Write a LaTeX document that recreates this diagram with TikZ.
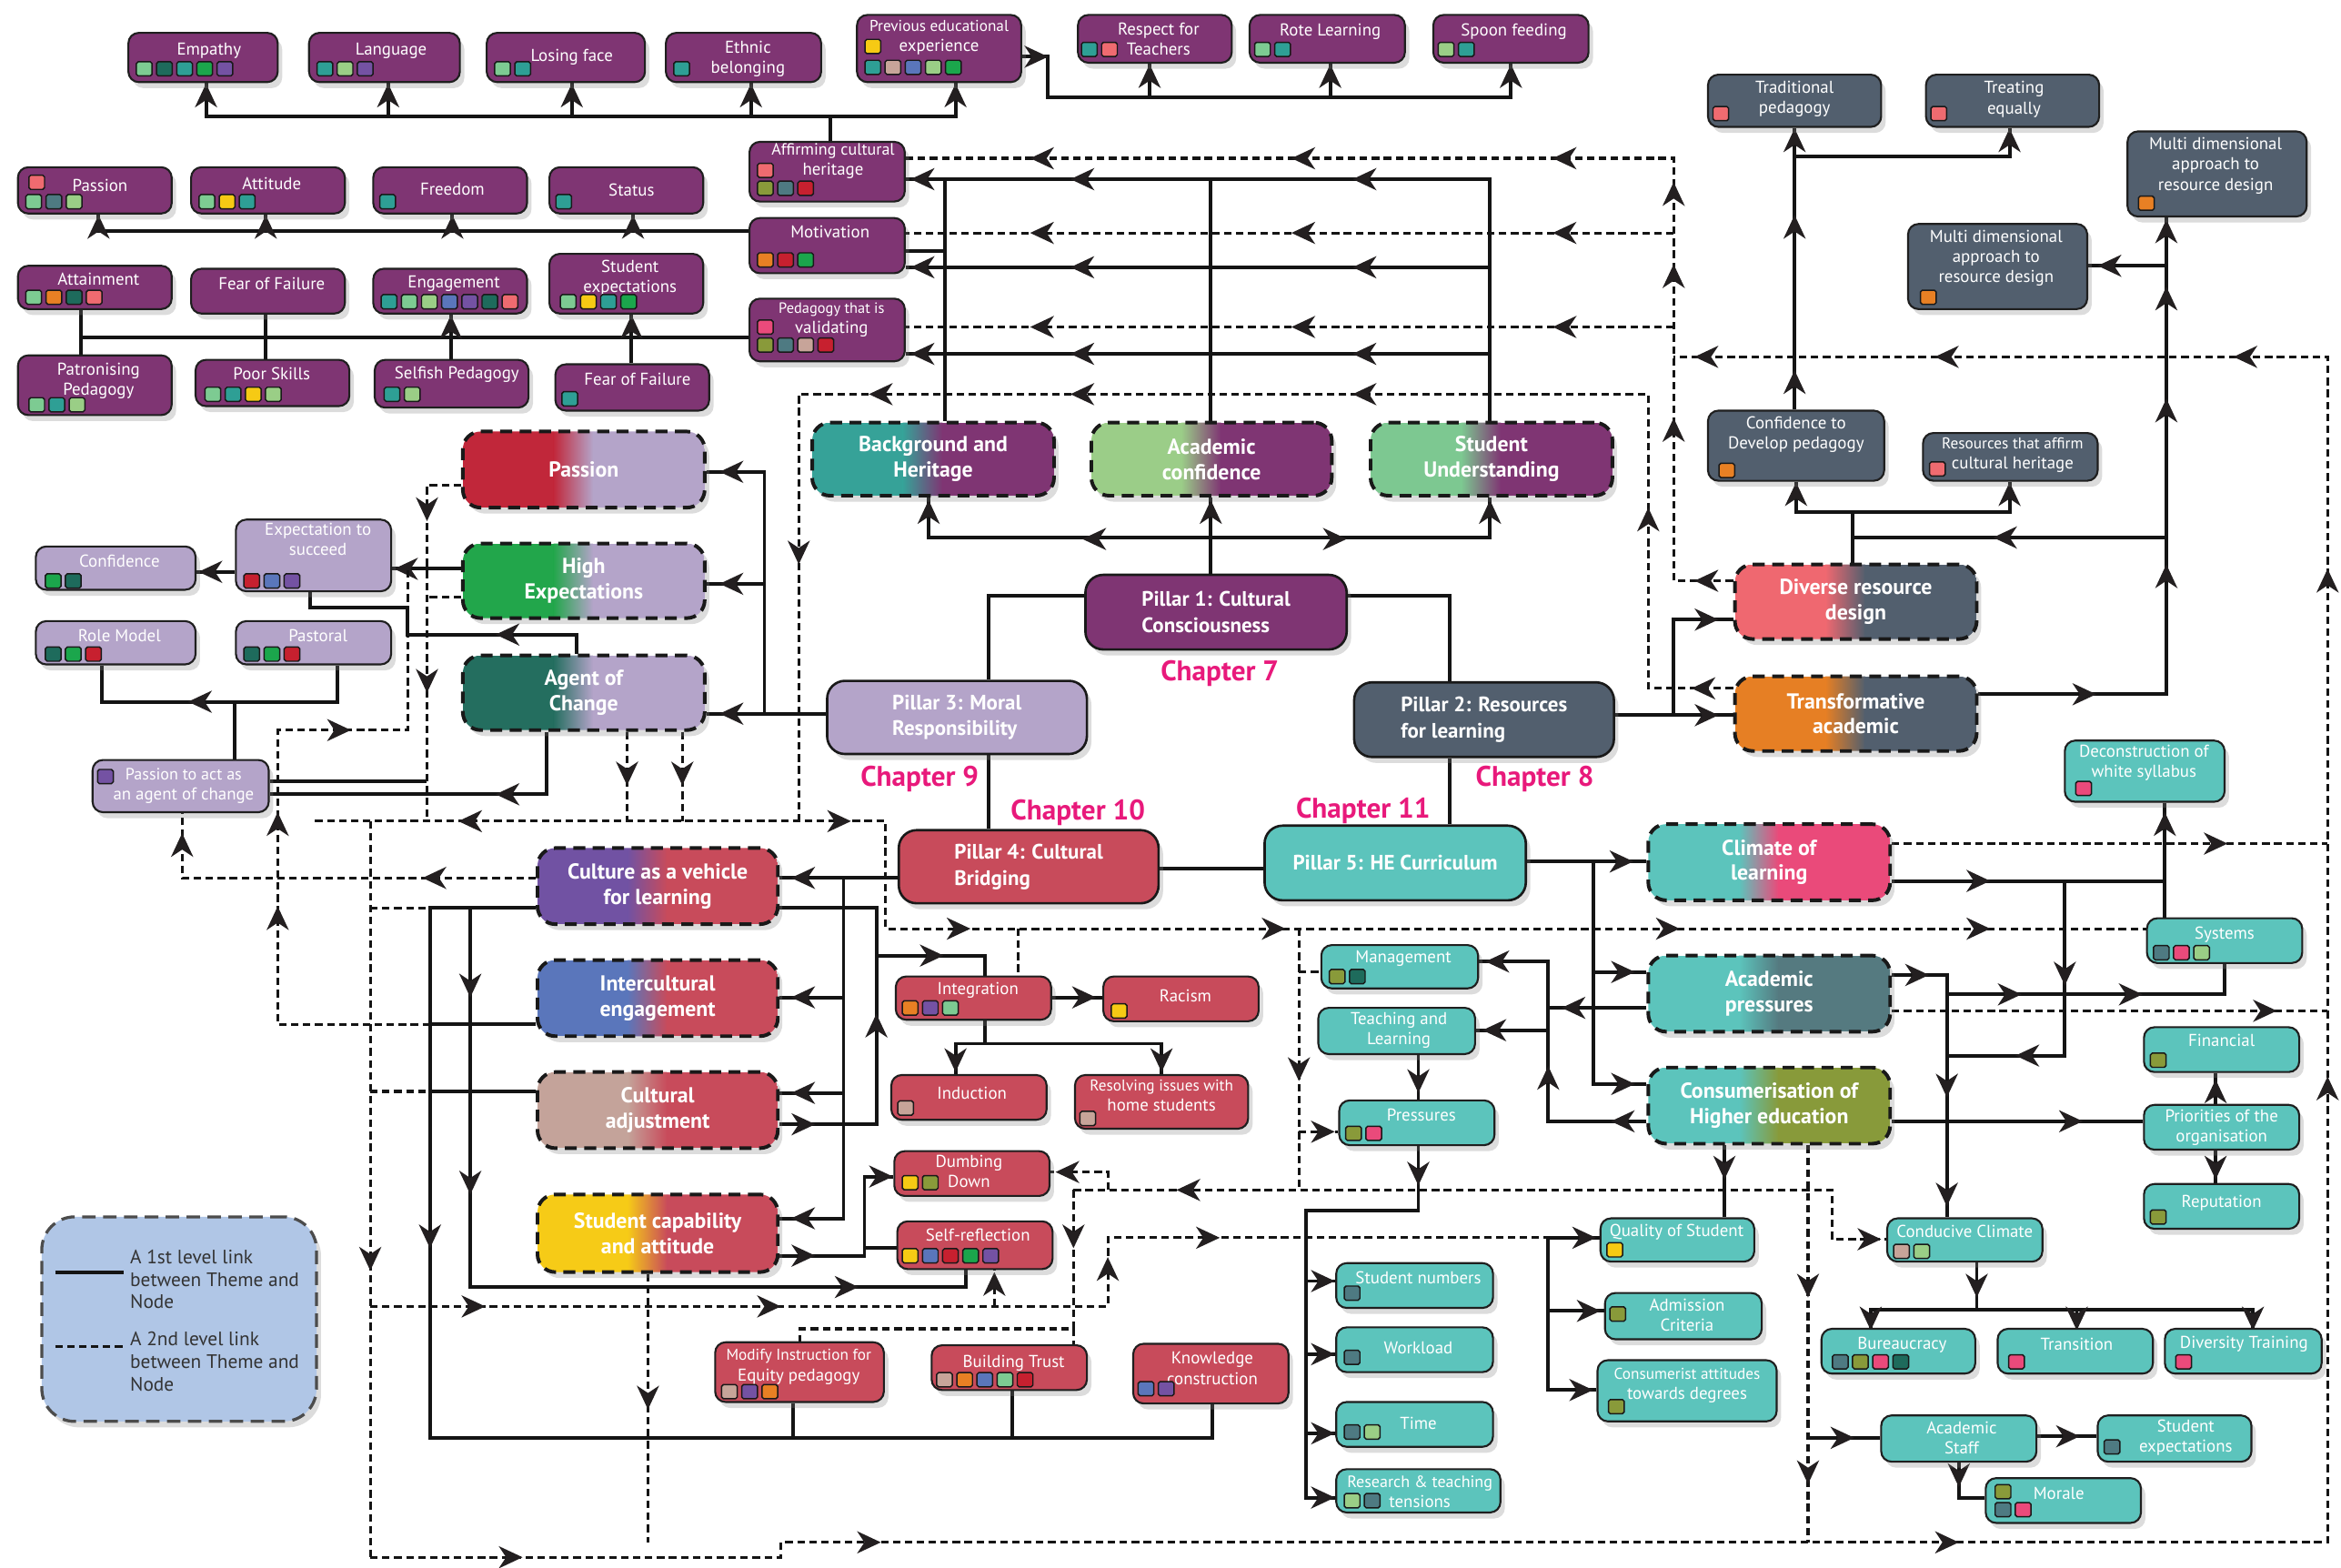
\documentclass[tikz,border=0pt]{standalone}
\usepackage{fontspec}
\setmainfont{PT Sans}
\usetikzlibrary{fit,shadows}
\pgfdeclarelayer{bg}
\pgfsetlayers{bg,main}
\definecolor{cPur}{HTML}{7F3573}
\definecolor{cSla}{HTML}{525F6E}
\definecolor{cLav}{HTML}{B4A4C9}
\definecolor{cRed}{HTML}{C84B5B}
\definecolor{cTea}{HTML}{5CC4BC}
\definecolor{cLeg}{HTML}{B0C6E6}
\definecolor{cChap}{HTML}{E8197B}
\definecolor{ahc}{HTML}{231F20}
\definecolor{sMint}{HTML}{7DCB92}
\definecolor{sDk}{HTML}{1E6B5C}
\definecolor{sTeal}{HTML}{2E9F95}
\definecolor{sGrn}{HTML}{1BA64C}
\definecolor{sPur}{HTML}{7452A3}
\definecolor{sPale}{HTML}{9ACE86}
\definecolor{sYel}{HTML}{F6CA14}
\definecolor{sTan}{HTML}{C7A499}
\definecolor{sBlu}{HTML}{5A76BB}
\definecolor{sSal}{HTML}{EF6B70}
\definecolor{sOrg}{HTML}{E88024}
\definecolor{sCrim}{HTML}{C7202F}
\definecolor{sPnk}{HTML}{EA4A7B}
\definecolor{sOli}{HTML}{899A3A}
\definecolor{sSlt}{HTML}{4E7A82}
\definecolor{gPass}{HTML}{C1273A}
\definecolor{gHE}{HTML}{22A64B}
\definecolor{gAoC}{HTML}{246E5F}
\definecolor{gBH}{HTML}{36A298}
\definecolor{gAC}{HTML}{9BCD88}
\definecolor{gSU}{HTML}{7DC891}
\definecolor{gDRD}{HTML}{EF6870}
\definecolor{gTA}{HTML}{E67F24}
\definecolor{gCVL}{HTML}{7152A3}
\definecolor{gIE}{HTML}{5A76BB}
\definecolor{gCA}{HTML}{C4A39A}
\definecolor{gSCA}{HTML}{F6CB17}
\definecolor{gPnk}{HTML}{EA4A7A}
\definecolor{gSltT}{HTML}{557A80}
\definecolor{gOli}{HTML}{889A3A}

\tikzset{
  shd/.style={drop shadow={opacity=0.28,shadow xshift=3pt,shadow yshift=-4pt}},
  base/.style={rectangle, rounded corners=7pt, draw=black!88, line width=1.3pt, inner sep=0pt, shd},
  pur/.style={base, fill=cPur},
  lav/.style={base, fill=cLav},
  red/.style={base, fill=cRed},
  sla/.style={base, fill=cSla},
  tea/.style={base, fill=cTea},
  txt/.style={text=white, font=\fontsize{11.5}{13.5}\selectfont, align=center, inner sep=0pt},
  sqs/.style={draw=black!90, line width=0.9pt, rounded corners=1.2pt},
  theme/.style 2 args={rectangle, rounded corners=12pt, draw=black!90, line width=2.4pt,
    dash pattern=on 8pt off 5pt, inner sep=0pt, shd,
    path picture={
      \fill[#1, sharp corners] (path picture bounding box.south west) rectangle ([xshift=-20pt]path picture bounding box.north);
      \shade[sharp corners, left color=#1, right color=#2] ([xshift=-20.3pt]path picture bounding box.south) rectangle ([xshift=6.3pt]path picture bounding box.north);
      \fill[#2, sharp corners] ([xshift=6pt]path picture bounding box.south) rectangle (path picture bounding box.north east);
    }},
  ttxt/.style={text=white, font=\bfseries\fontsize{14.5}{17}\selectfont, align=center, inner sep=0pt},
  pillar/.style={rectangle, rounded corners=12pt, draw=black!90, line width=1.6pt, inner sep=0pt, shd},
  ptxt/.style={text=white, font=\bfseries\fontsize{14}{17.5}\selectfont, align=left, inner sep=0pt},
  chap/.style={text=cChap, font=\bfseries\fontsize{19}{21}\selectfont, inner sep=0pt},
  legbox/.style={rectangle, rounded corners=22pt, fill=cLeg, draw=black!70, line width=2pt,
    dash pattern=on 9pt off 5pt, inner sep=0pt, shd},
  legtxt/.style={text=black!80, font=\fontsize{13}{15}\selectfont, align=left, inner sep=0pt},
  l1/.style={line width=2.4pt, draw=black!92},
  l2/.style={line width=1.9pt, draw=black!92, dash pattern=on 5pt off 3pt},
  pics/ah/.style={code={\fill[ahc] (8pt,0pt) -- (-8pt,7.5pt) -- (-3pt,0pt) -- (-8pt,-7.5pt) -- cycle;}}
}
\newcommand\nd[9]{\node[#1, fit={(#3,#4) (#5,#6)}] (#2) {}; \node[txt] (#2-tx) at (#7,#8) {#9};}
\newcommand\sq[4]{\foreach \sqc [count=\sqi from 0] in {#4} {\draw[sqs, fill=\sqc] ([xshift=#2pt+\sqi*13.5pt, yshift=-#3pt]#1.north west) rectangle ++(10.5,9.5);}}
\newcommand\tnode[8]{\node[theme={#6}{#7}, fit={(#2,#3) (#4,#5)}] (#1) {}; \node[ttxt] (#1-tx) at (#1.center) {#8};}
\newcommand\pil[7]{\node[pillar, fill=#6, fit={(#2,#3) (#4,#5)}] (#1) {}; \node[ptxt] (#1-tx) at (#1.center) {#7};}
\newcommand\ahd[3]{\pic[rotate=#3] at (#1,#2) {ah};}

\begin{document}
\begin{tikzpicture}[x=1pt,y=-1pt]
\useasboundingbox (0,0) rectangle (1568,1050);

% ---------- purple small nodes
\nd{pur}{emp}{86}{22}{186}{55}{140}{34}{Empathy}
\sq{emp}{6}{20}{sMint,sDk,sTeal,sGrn,sPur}
\nd{pur}{lang}{207}{22}{308}{55}{262}{34}{Language}
\sq{lang}{6}{20}{sTeal,sPale,sPur}
\nd{pur}{lose}{326}{22}{432}{55}{383}{38}{Losing face}
\sq{lose}{6}{20}{sMint,sTeal}
\nd{pur}{eth}{446}{22}{550}{55}{501}{39.5}{Ethnic\\belonging}
\sq{eth}{6}{20}{sTeal}
\nd{pur}{prev}{574}{10}{684}{55}{629}{25}{\fontsize{10.5}{13.5}\selectfont Previous educational\\experience}
\sq{prev}{6}{17}{sYel}
\sq{prev}{6}{31}{sTeal,sTan,sBlu,sPale,sGrn}
\nd{pur}{resp}{722}{10}{825}{42}{776}{26}{Respect for\\Teachers}
\sq{resp}{3}{19}{sTeal,sSal}
\nd{pur}{rote}{837}{10}{941}{42}{891}{21}{Rote Learning}
\sq{rote}{4}{19}{sMint,sTeal}
\nd{pur}{spoon}{960}{10}{1064}{42}{1014}{21}{Spoon feeding}
\sq{spoon}{4}{19}{sPale,sTeal}

\nd{pur}{pas2}{12}{112}{115}{143}{67}{124}{Passion}
\sq{pas2}{8}{6}{sSal}
\sq{pas2}{6}{19}{sMint,sSlt,sPale}
\nd{pur}{att}{128}{112}{231}{143}{182}{123}{Attitude}
\sq{att}{6}{19}{sMint,sYel,sTeal}
\nd{pur}{free}{250}{112}{353}{143}{303}{127}{Freedom}
\sq{free}{5}{19}{sTeal}
\nd{pur}{stat}{368}{112}{471}{143}{423}{127}{Status}
\sq{stat}{5}{19}{sTeal}
\nd{pur}{aff}{502}{95}{606}{135}{558}{108}{\fontsize{11}{13}\selectfont Affirming cultural\\heritage}
\sq{aff}{6}{15}{sSal}
\sq{aff}{6}{27}{sOli,sSlt,sCrim}
\nd{pur}{mot}{502}{146}{606}{183}{556}{155}{Motivation}
\sq{mot}{6}{24}{sOrg,sCrim,sGrn}

\nd{pur}{attn}{12}{178}{115}{207}{66}{187}{Attainment}
\sq{attn}{6}{17}{sMint,sOrg,sDk,sSal}
\nd{pur}{fof1}{128}{180}{231}{210}{182}{190}{Fear of Failure}
\nd{pur}{eng}{250}{180}{353}{210}{304}{190}{Engagement}
\sq{eng}{6}{18}{sTeal,sMint,sPale,sBlu,sPur,sDk,sSal}
\nd{pur}{sexp}{368}{170}{471}{210}{422}{186}{Student\\expectations}
\sq{sexp}{8}{28}{sMint,sYel,sTeal,sGrn}
\nd{pur}{pval}{502}{200}{606}{242}{557}{214}{\fontsize{10}{12}\selectfont Pedagogy that is\\validating}
\sq{pval}{6}{15}{sPnk}
\sq{pval}{6}{27}{sOli,sSlt,sTan,sCrim}

\nd{pur}{patr}{12}{238}{115}{278}{66}{255}{Patronising\\Pedagogy}
\sq{patr}{8}{29}{sMint,sTeal,sPale}
\nd{pur}{poor}{131}{241}{234}{272}{182}{250}{Poor Skills}
\sq{poor}{7}{19}{sMint,sTeal,sYel,sPale}
\nd{pur}{self}{251}{241}{354}{273}{306}{251}{Selfish Pedagogy}
\sq{self}{7}{19}{sTeal,sPale}
\nd{pur}{fof2}{372}{244}{475}{275}{427}{254}{Fear of Failure}
\sq{fof2}{5}{19}{sTeal}

% ---------- lavender small nodes
\nd{lav}{conf}{24}{366}{131}{395}{80}{376}{Confidence}
\sq{conf}{7}{19}{sGrn,sDk}
\nd{lav}{ets}{158}{348}{262}{396}{213}{361}{Expectation to\\succeed}
\sq{ets}{6}{37}{sCrim,sBlu,sPur}
\nd{lav}{role}{24}{416}{131}{445}{80}{426}{Role Model}
\sq{role}{7}{18}{sDk,sGrn,sCrim}
\nd{lav}{past}{158}{416}{262}{445}{213}{426}{Pastoral}
\sq{past}{6}{18}{sDk,sGrn,sCrim}
\nd{lav}{pasA}{62}{509}{180}{544}{123}{526.5}{\fontsize{11}{13}\selectfont Passion to act as\\an agent of change}
\sq{pasA}{4}{7}{sPur}

% ---------- red small nodes
\nd{red}{integ}{600}{654}{704}{683}{655}{663}{Integration}
\sq{integ}{5}{17}{sOrg,sPur,sMint}
\nd{red}{rac}{739}{654}{843}{684}{794}{667}{Racism}
\sq{rac}{6}{19}{sYel}
\nd{red}{ind}{597}{720}{701}{750}{651}{732}{Induction}
\sq{ind}{5}{18}{sTan}
\nd{red}{res}{720}{720}{836}{756}{778}{733.5}{\fontsize{10.5}{13.5}\selectfont Resolving issues with\\home students}
\sq{res}{4}{25}{sTan}
\nd{red}{dumb}{599}{771}{703}{801}{649}{784.5}{Dumbing\\Down}
\sq{dumb}{6}{17}{sYel,sOli}
\nd{red}{selfr}{601}{818}{705}{850}{655}{827}{Self-reflection}
\sq{selfr}{4}{19}{sYel,sBlu,sCrim,sGrn,sPur}
\nd{red}{mod}{479}{899}{592}{939}{535}{915.5}{\fontsize{10.5}{13.5}\selectfont Modify Instruction for\\Equity pedagogy}
\sq{mod}{5}{29}{sTan,sPur,sOrg}
\nd{red}{bt}{624}{901}{728}{931}{679}{913}{Building Trust}
\sq{bt}{4}{19}{sTan,sOrg,sBlu,sMint,sCrim}
\nd{red}{kc}{759}{900}{863}{940}{812}{916.5}{Knowledge\\construction}
\sq{kc}{4}{26}{sBlu,sPur}

% ---------- slate small nodes
\nd{sla}{trad}{1144}{50}{1260}{85}{1202}{66.5}{Traditional\\pedagogy}
\sq{trad}{4}{22}{sSal}
\nd{sla}{treat}{1290}{50}{1406}{85}{1349}{66.5}{Treating\\equally}
\sq{treat}{4}{22}{sSal}
\nd{sla}{md1}{1425}{88}{1545}{145}{1484}{111}{Multi dimensional\\approach to\\resource design}
\sq{md1}{8}{44}{sOrg}
\nd{sla}{md2}{1278}{150}{1398}{207}{1337}{173}{Multi dimensional\\approach to\\resource design}
\sq{md2}{9}{45}{sOrg}
\nd{sla}{cdp}{1144}{275}{1262}{322}{1203}{291}{Confidence to\\Develop pedagogy}
\sq{cdp}{8}{36}{sOrg}
\nd{sla}{raf}{1288}{290}{1405}{322}{1348}{305}{\fontsize{10.5}{13.5}\selectfont Resources that affirm\\cultural heritage}
\sq{raf}{5}{20}{sSal}

% ---------- teal small nodes
\nd{tea}{dws}{1383}{496}{1490}{537}{1436}{511}{Deconstruction of\\white syllabus}
\sq{dws}{8}{28}{sPnk}
\nd{tea}{sys}{1438}{615}{1542}{645}{1490}{626}{Systems}
\sq{sys}{5}{19}{sSlt,sPnk,sPale}
\nd{tea}{fin}{1436}{688}{1540}{718}{1488}{697}{Financial}
\sq{fin}{5}{18}{sOli}
\nd{tea}{prio}{1436}{740}{1540}{770}{1488}{755}{Priorities of the\\organisation}
\nd{tea}{rep}{1436}{793}{1540}{823}{1488}{806}{Reputation}
\sq{rep}{5}{18}{sOli}
\nd{tea}{mgmt}{885}{633}{990}{662}{940}{642}{Management}
\sq{mgmt}{6}{17}{sOli,sDk}
\nd{tea}{tl}{883}{675}{988}{706}{937}{690}{Teaching and\\Learning}
\nd{tea}{prs}{897}{737}{1001}{767}{952}{747}{Pressures}
\sq{prs}{5}{18}{sOli,sPnk}
\nd{tea}{qos}{1072}{816}{1175}{845}{1123}{825}{Quality of Student}
\sq{qos}{5}{17}{sYel}
\nd{tea}{adm}{1075}{866}{1180}{897}{1130}{881}{Admission\\Criteria}
\sq{adm}{4}{10}{sOli}
\nd{tea}{cat}{1070}{911}{1190}{952}{1130}{928}{\fontsize{10.5}{13.5}\selectfont Consumerist attitudes\\towards degrees}
\sq{cat}{8}{27}{sOli}
\nd{tea}{cc}{1264}{816}{1368}{845}{1316}{825}{Conducive Climate}
\sq{cc}{5}{18}{sTan,sPale}
\nd{tea}{sn}{895}{846}{1000}{876}{950}{856}{Student numbers}
\sq{sn}{6}{16}{sSlt}
\nd{tea}{wl}{895}{889}{1000}{919}{950}{903}{Workload}
\sq{wl}{6}{16}{sSlt}
\nd{tea}{time}{895}{939}{1000}{969}{950}{953}{Time}
\sq{time}{6}{16}{sSlt,sPale}
\nd{tea}{rtt}{895}{984}{1005}{1013}{951}{999}{\fontsize{11}{13}\selectfont Research \& teaching\\tensions}
\sq{rtt}{6}{17}{sPale,sSlt}
\nd{tea}{bur}{1220}{890}{1323}{920}{1274}{901}{Bureaucracy}
\sq{bur}{8}{18}{sSlt,sOli,sPnk,sDk}
\nd{tea}{tran}{1338}{890}{1442}{920}{1391}{900}{Transition}
\sq{tran}{8}{18}{sPnk}
\nd{tea}{dt}{1450}{890}{1555}{920}{1503}{900}{Diversity Training}
\sq{dt}{8}{18}{sPnk}
\nd{tea}{as}{1260}{948}{1364}{979}{1314}{963}{Academic\\Staff}
\nd{tea}{sexp2}{1405}{948}{1508}{979}{1464}{963}{Student\\expectations}
\sq{sexp2}{5}{17}{sSlt}
\nd{tea}{mor}{1330}{990}{1434}{1020}{1379}{1000}{Morale}
\sq{mor}{7}{5}{sOli}
\sq{mor}{7}{17}{sSlt,sPnk}

% ---------- themes
\tnode{thPass}{310}{289}{472}{340}{gPass}{cLav}{Passion}
\tnode{thHE}{310}{364}{472}{414}{gHE}{cLav}{High\\Expectations}
\tnode{thAoC}{310}{439}{472}{489}{gAoC}{cLav}{Agent of\\Change}
\tnode{bh}{544}{283}{706}{332}{gBH}{cPur}{Background and\\Heritage}
\tnode{acf}{731}{283}{892}{332}{gAC}{cPur}{Academic\\confidence}
\tnode{su}{918}{283}{1080}{332}{gSU}{cPur}{Student\\Understanding}
\tnode{drd}{1162}{378}{1324}{428}{gDRD}{cSla}{Diverse resource\\design}
\tnode{ta}{1162}{453}{1324}{503}{gTA}{cSla}{Transformative\\academic}
\tnode{cvl}{360}{568}{521}{619}{gCVL}{cRed}{Culture as a vehicle\\for learning}
\tnode{ie}{360}{643}{521}{694}{gIE}{cRed}{Intercultural\\engagement}
\tnode{ca}{360}{718}{521}{769}{gCA}{cRed}{Cultural\\adjustment}
\tnode{sca}{360}{800}{521}{852}{gSCA}{cRed}{Student capability\\and attitude}
\tnode{col}{1104}{552}{1266}{603}{cTea}{gPnk}{Climate of\\learning}
\tnode{ap}{1104}{640}{1266}{691}{cTea}{gSltT}{Academic\\pressures}
\tnode{che}{1104}{715}{1266}{766}{cTea}{gOli}{Consumerisation of\\Higher education}

% ---------- pillars
\pil{p1}{727}{385}{902}{435}{cPur}{Pillar 1: Cultural\\Consciousness}
\pil{p3}{554}{456}{728}{505}{cLav}{Pillar 3: Moral\\Responsibility}
\pil{p2}{907}{457}{1081}{507}{cSla}{Pillar 2: Resources\\for learning}
\pil{p4}{602}{556}{776}{605}{cRed}{Pillar 4: Cultural\\Bridging}
\pil{p5}{847}{553}{1022}{603}{cTea}{Pillar 5: HE Curriculum}

\node[chap] (ch7) at (817,451) {Chapter 7};
\node[chap] (ch9) at (616,522) {Chapter 9};
\node[chap] (ch8) at (1028,522) {Chapter 8};
\node[chap] (ch10) at (722,544) {Chapter 10};
\node[chap] (ch11) at (913,543) {Chapter 11};

% ---------- legend
\node[legbox, fit={(28,815) (212,952)}] (leg) {};
\draw[l1] (37,852) -- (83,852);
\draw[l2] (37,902) -- (83,902);
\node[legtxt, anchor=north west] (leg1) at (87,837) {A 1st level link\\between Theme and\\Node};
\node[legtxt, anchor=north west] (leg2) at (87,892) {A 2nd level link\\between Theme and\\Node};

% ================= connectors
\begin{pgfonlayer}{bg}
% top purple
\draw[l1] (emp.south -| 138,0) -- (138,78) -- (640,78) -- (prev.south -| 640,0);
\draw[l1] (lang.south -| 260,0) -- (260,78);
\draw[l1] (lose.south -| 383,0) -- (383,78);
\draw[l1] (eth.south -| 503,0) -- (503,78);
\draw[l1] (aff.north -| 556,0) -- (556,78);
\ahd{138}{64}{90}\ahd{260}{64}{90}\ahd{383}{64}{90}\ahd{503}{64}{90}\ahd{640}{64}{90}
\draw[l1] (prev.east |- 0,38) -- (702,38) -- (702,65) -- (1012,65) -- (spoon.south -| 1012,0);
\draw[l1] (770,65) -- (resp.south -| 770,0);
\draw[l1] (891,65) -- (rote.south -| 891,0);
\ahd{770}{51}{90}\ahd{891}{51}{90}\ahd{1012}{51}{90}\ahd{694}{38}{0}
% second row
\draw[l1] (mot.west |- 0,155) -- (66,155) -- (pas2.south -| 66,0);
\draw[l1] (178,155) -- (att.south -| 178,0);
\draw[l1] (303,155) -- (free.south -| 303,0);
\draw[l1] (424,155) -- (stat.south -| 424,0);
\ahd{66}{152}{90}\ahd{178}{152}{90}\ahd{303}{152}{90}\ahd{424}{152}{90}
% third/fourth rows
\draw[l1] (pval.west |- 0,226) -- (54,226);
\draw[l1] (attn.south -| 54,0) -- (patr.north -| 54,0);
\draw[l1] (fof1.south -| 178,0) -- (poor.north -| 178,0);
\draw[l1] (eng.south -| 302,0) -- (self.north -| 302,0);
\draw[l1] (sexp.south -| 423,0) -- (fof2.north -| 423,0);
\ahd{302}{219}{90}\ahd{423}{219}{90}
% themes to upper purple
\draw[l1] (bh.north -| 633,0) -- (633,120);
\draw[l1] (acf.north -| 811,0) -- (811,120);
\draw[l1] (su.north -| 998,0) -- (998,120) -- (aff.east |- 0,120);
\draw[l1] (998,179) -- (mot.east |- 0,179);
\draw[l1] (mot.east |- 0,168) -- (633,168);
\draw[l1] (998,237) -- (pval.east |- 0,237);
\foreach \yy in {120,179,237}{\ahd{618}{\yy}{180}\ahd{725}{\yy}{180}\ahd{914}{\yy}{180}}
\draw[l2] (drd.west |- 0,389) -- (1121,389) -- (1121,106) -- (aff.east |- 0,106);
\draw[l2] (1121,156) -- (mot.east |- 0,156);
\draw[l2] (1121,219) -- (pval.east |- 0,219);
\foreach \yy in {106,156,219}{\ahd{698}{\yy}{180}\ahd{873}{\yy}{180}\ahd{1048}{\yy}{180}}
\ahd{1121}{130}{90}\ahd{1121}{185}{90}\ahd{1121}{288}{90}\ahd{1143}{389}{180}
% far right dashed loop
\draw[l2] (col.east |- 0,565) -- (1559,565);
\draw[l2] (ap.east |- 0,677) -- (1559,677);
\draw[l2] (248,1043) -- (523,1043) -- (523,1033) -- (1559,1033) -- (1559,239) -- (1121,239);
\ahd{1484}{565}{0}\ahd{1517}{677}{0}
\ahd{1143}{239}{180}\ahd{1304}{239}{180}\ahd{1504}{239}{180}
\ahd{1559}{389}{90}\ahd{1559}{729}{90}
\ahd{342}{1043}{0}\ahd{582}{1033}{0}\ahd{1304}{1033}{0}
% dashed from transformative academic
\draw[l2] (ta.west |- 0,461) -- (1104,461) -- (1104,264) -- (535,264) -- (535,550);
\ahd{1141}{461}{180}\ahd{1104}{348}{90}\ahd{590}{264}{180}\ahd{725}{264}{180}\ahd{914}{264}{180}\ahd{535}{370}{-90}
% pillars
\draw[l1] (p1.north -| 811,0) -- (811,360);
\draw[l1] (bh.south -| 622,0) -- (622,360) -- (998,360) -- (su.south -| 998,0);
\draw[l1] (811,360) -- (acf.south -| 811,0);
\ahd{733}{361}{180}\ahd{894}{361}{0}\ahd{622}{343}{90}\ahd{811}{343}{90}\ahd{998}{343}{90}
\draw[l1] (p1.west |- 0,399) -- (662,399) -- (p3.north -| 662,0);
\draw[l1] (p1.east |- 0,399) -- (971,399) -- (p2.north -| 971,0);
\draw[l1] (p3.south -| 662,0) -- (p4.north -| 662,0);
\draw[l1] (p2.south -| 971,0) -- (p5.north -| 971,0);
\draw[l1] (p4.east |- 0,582) -- (p5.west |- 0,582);
% pillar 2 / resources
\draw[l1] (p2.east |- 0,479) -- (ta.west |- 0,479);
\draw[l1] (1121,479) -- (1121,415) -- (drd.west |- 0,415);
\ahd{1143}{479}{0}\ahd{1143}{415}{0}
\draw[l1] (drd.north -| 1241,0) -- (1241,343);
\draw[l1] (cdp.south -| 1203,0) -- (1203,343) -- (1346,343) -- (raf.south -| 1346,0);
\ahd{1203}{331}{90}\ahd{1346}{331}{90}
\draw[l1] (1241,360) -- (1451,360);
\ahd{1343}{360}{180}
\draw[l1] (ta.east |- 0,465) -- (1451,465) -- (md1.south -| 1451,0);
\ahd{1396}{465}{0}\ahd{1451}{386}{90}\ahd{1451}{275}{90}\ahd{1451}{200}{90}\ahd{1451}{155}{90}
\draw[l1] (1451,178) -- (md2.east |- 0,178);
\ahd{1413}{178}{180}
\draw[l1] (cdp.north -| 1202,0) -- (trad.south -| 1202,0);
\draw[l1] (1202,105) -- (1346,105) -- (treat.south -| 1346,0);
\ahd{1202}{256}{90}\ahd{1202}{152}{90}\ahd{1202}{94}{90}\ahd{1346}{94}{90}
% left cluster
\draw[l1] (p3.west |- 0,478) -- (512,478) -- (512,316) -- (thPass.east |- 0,316);
\draw[l1] (512,391) -- (thHE.east |- 0,391);
\draw[l1] (512,478) -- (thAoC.east |- 0,478);
\ahd{490}{316}{180}\ahd{490}{391}{180}\ahd{490}{478}{180}
\draw[l1] (thHE.west |- 0,381) -- (ets.east |- 0,381);
\ahd{272}{381}{180}
\draw[l1] (ets.west |- 0,383) -- (conf.east |- 0,383);
\ahd{141}{383}{180}
\draw[l1] (ets.south -| 208,0) -- (208,407) -- (273,407) -- (273,425) -- (386,425) -- (thAoC.north -| 386,0);
\ahd{340}{425}{180}
\draw[l1] (role.south -| 68,0) -- (68,470) -- (226,470) -- (past.south -| 226,0);
\draw[l1] (157,470) -- (pasA.north -| 157,0);
\ahd{134}{470}{180}
\draw[l1] (thAoC.south -| 366,0) -- (366,532) -- (pasA.east |- 0,532);
\ahd{340}{532}{180}
\draw[l1] (pasA.east |- 0,523) -- (286,523);
\draw[l2] (thPass.west |- 0,325) -- (286,325) -- (286,550);
\draw[l2] (thHE.west |- 0,400) -- (286,400);
\ahd{286}{341}{-90}\ahd{286}{456}{-90}
\draw[l2] (thAoC.south -| 420,0) -- (420,550);
\draw[l2] (thAoC.south -| 457,0) -- (457,550);
\ahd{420}{518}{-90}\ahd{457}{518}{-90}
\draw[l2] (211,550) -- (593,550) -- (593,622) -- (sys.west |- 0,622);
\ahd{315}{550}{180}\ahd{562}{550}{0}
\ahd{642}{622}{0}\ahd{853}{622}{0}\ahd{1117}{622}{0}\ahd{1325}{622}{0}
\draw[l2] (273,382) -- (273,489) -- (186,489) -- (186,686) -- (288,686);
\ahd{227}{489}{0}\ahd{186}{552}{90}\ahd{186}{615}{90}
\draw[l2] (cvl.west |- 0,588) -- (122,588) -- (pasA.south -| 122,0);
\ahd{291}{588}{180}\ahd{122}{566}{90}
\draw[l2] (248,550) -- (248,1043);
\ahd{248}{843}{-90}
\draw[l2] (248,608) -- (288,608);
\draw[l2] (248,731) -- (288,731);
% red group
\draw[l1] (cvl.west |- 0,608) -- (288,608) -- (288,963) -- (812,963) -- (kc.south -| 812,0);
\draw[l1] (ie.west |- 0,686) -- (288,686);
\draw[l1] (ca.west |- 0,731) -- (288,731);
\draw[l1] (531,963) -- (mod.south -| 531,0);
\draw[l1] (678,963) -- (bt.south -| 678,0);
\ahd{288}{828}{-90}
\draw[l1] (315,608) -- (315,862) -- (647,862) -- (selfr.south -| 647,0);
\ahd{315}{660}{-90}\ahd{315}{792}{-90}\ahd{567}{862}{0}
\draw[l2] (666,875) -- (selfr.south -| 666,0);
\ahd{666}{860}{90}
\draw[l2] (248,875) -- (742,875) -- (742,829) -- (1037,829);
\ahd{317}{875}{0}\ahd{515}{875}{0}\ahd{742}{850}{90}\ahd{809}{829}{0}
\draw[l1] (1037,829) -- (qos.west |- 0,829);
\draw[l1] (1037,829) -- (1037,931) -- (cat.west |- 0,931);
\draw[l1] (1037,878) -- (adm.west |- 0,878);
\ahd{1061}{829}{0}\ahd{1064}{878}{0}\ahd{1059}{931}{0}
\draw[l2] (sca.south -| 434,0) -- (434,1033);
\ahd{434}{936}{-90}
\draw[l1] (p4.west |- 0,588) -- (cvl.east |- 0,588);
\draw[l1] (565,588) -- (565,816) -- (sca.east |- 0,816);
\draw[l1] (565,668) -- (ie.east |- 0,668);
\draw[l1] (565,732) -- (ca.east |- 0,732);
\ahd{538}{588}{180}\ahd{538}{668}{180}\ahd{538}{732}{180}\ahd{538}{816}{180}
\draw[l1] (cvl.east |- 0,608) -- (587,608) -- (587,753) -- (ca.east |- 0,753);
\draw[l1] (587,640) -- (660,640) -- (integ.north -| 660,0);
\ahd{538}{753}{0}\ahd{587}{687}{90}\ahd{624}{640}{0}
\draw[l1] (sca.east |- 0,841) -- (579,841) -- (579,788) -- (dumb.west |- 0,788);
\draw[l1] (579,836) -- (selfr.west |- 0,836);
\ahd{538}{841}{0}\ahd{590}{788}{0}
\draw[l1] (integ.east |- 0,668) -- (rac.west |- 0,668);
\ahd{726}{668}{0}
\draw[l1] (integ.south -| 660,0) -- (660,699);
\draw[l1] (ind.north -| 640,0) -- (640,699) -- (778,699) -- (res.north -| 778,0);
\ahd{640}{710}{-90}\ahd{778}{710}{-90}
\draw[l2] (682,622) -- (integ.north -| 682,0);
\draw[l2] (870,622) -- (870,797);
\draw[l2] (870,651) -- (mgmt.west |- 0,651);
\draw[l2] (870,758) -- (prs.west |- 0,758);
\ahd{870}{716}{-90}\ahd{886}{758}{0}
\draw[l2] (719,797) -- (1227,797) -- (1227,830) -- (cc.west |- 0,830);
\ahd{796}{797}{180}\ahd{1252}{830}{0}
\draw[l2] (742,797) -- (742,785) -- (dumb.east |- 0,785);
\ahd{715}{785}{180}
\draw[l2] (719,797) -- (719,890) -- (536,890) -- (mod.north -| 536,0);
\draw[l2] (719,890) -- (bt.north -| 719,0);
\ahd{719}{828}{-90}
% teal group
\draw[l1] (p5.east |- 0,577) -- (col.west |- 0,577);
\ahd{1086}{577}{0}
\draw[l1] (1067,577) -- (1067,726) -- (che.west |- 0,726);
\draw[l1] (1067,651) -- (ap.west |- 0,651);
\draw[l1] (ap.west |- 0,675) -- (1037,675);
\ahd{1087}{651}{0}\ahd{1087}{726}{0}\ahd{1054}{675}{180}
\draw[l1] (che.west |- 0,751) -- (1037,751) -- (1037,644) -- (mgmt.east |- 0,644);
\draw[l1] (1037,690) -- (tl.east |- 0,690);
\ahd{1087}{751}{180}\ahd{1037}{722}{90}\ahd{1003}{644}{180}\ahd{1001}{690}{180}
\draw[l1] (tl.south -| 950,0) -- (prs.north -| 950,0);
\ahd{950}{724}{-90}
\draw[l1] (prs.south -| 950,0) -- (950,811) -- (875,811) -- (875,1003) -- (rtt.west |- 0,1003);
\draw[l1] (875,858) -- (sn.west |- 0,858);
\draw[l1] (875,907) -- (wl.west |- 0,907);
\draw[l1] (875,960) -- (time.west |- 0,960);
\ahd{950}{786}{-90}\ahd{886}{858}{0}\ahd{886}{907}{0}\ahd{886}{960}{0}\ahd{886}{1003}{0}
\draw[l1] (col.east |- 0,590) -- (1450,590) -- (dws.south -| 1450,0);
\draw[l1] (1450,590) -- (sys.north -| 1450,0);
\ahd{1325}{590}{0}\ahd{1450}{552}{90}
\draw[l1] (1383,590) -- (1383,707) -- (1304,707);
\ahd{1383}{652}{-90}\ahd{1358}{707}{180}
\draw[l1] (ap.east |- 0,653) -- (1304,653) -- (cc.north -| 1304,0);
\ahd{1284}{653}{0}\ahd{1304}{727}{-90}\ahd{1304}{800}{-90}
\draw[l1] (1304,666) -- (1490,666) -- (sys.south -| 1490,0);
\ahd{1346}{666}{0}\ahd{1427}{666}{0}
\draw[l1] (che.east |- 0,751) -- (prio.west |- 0,751);
\ahd{1387}{751}{0}
\draw[l1] (fin.south -| 1484,0) -- (prio.north -| 1484,0);
\ahd{1484}{731}{90}
\draw[l1] (prio.south -| 1484,0) -- (rep.north -| 1484,0);
\ahd{1484}{782}{-90}
\draw[l1] (che.south -| 1155,0) -- (qos.north -| 1155,0);
\ahd{1155}{782}{-90}
\draw[l2] (che.south -| 1211,0) -- (1211,1033);
\ahd{1211}{861}{-90}\ahd{1211}{986}{-90}
\draw[l1] (1211,963) -- (as.west |- 0,963);
\ahd{1234}{963}{0}
\draw[l1] (cc.south -| 1324,0) -- (1324,877);
\draw[l1] (bur.north -| 1253,0) -- (1253,877) -- (1509,877) -- (dt.north -| 1509,0);
\draw[l1] (1391,877) -- (tran.north -| 1391,0);
\ahd{1324}{861}{-90}\ahd{1253}{883}{-90}\ahd{1391}{883}{-90}\ahd{1509}{883}{-90}
\draw[l1] (as.east |- 0,962) -- (sexp2.west |- 0,962);
\ahd{1385}{962}{0}
\draw[l1] (as.south -| 1312,0) -- (1312,1003) -- (mor.west |- 0,1003);
\ahd{1312}{988}{-90}
\end{pgfonlayer}
\end{tikzpicture}
\end{document}
